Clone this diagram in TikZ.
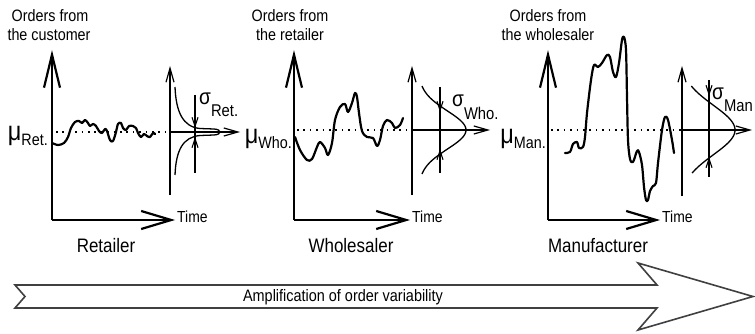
\documentclass[tikz,border=0pt]{standalone}
\usepackage{fontspec}
\setmainfont{Liberation Sans}[FakeStretch=0.87]
\usetikzlibrary{arrows.meta}

\tikzset{
  valaxis/.style={line width=2.2pt, -{Straight Barb[length=33pt,width=16pt]}},
  timeaxis/.style={line width=2.2pt, -{Straight Barb[length=30pt,width=18pt]}},
  distaxis/.style={line width=1.2pt, -{Straight Barb[length=14pt,width=8pt]}},
  sigline/.style={line width=1.2pt},
  sigarrow/.style={line width=1.1pt, -{Straight Barb[length=9pt,width=6pt]}},
  series/.style={line width=2.2pt, line join=round, line cap=round},
  bell/.style={line width=1.3pt},
  meanline/.style={line width=1.6pt, dash pattern=on 1.6pt off 4.8pt},
  toptext/.style={anchor=base, inner sep=0pt, font=\fontsize{16.5}{18}\selectfont},
  timetext/.style={anchor=base west, inner sep=0pt, font=\fontsize{16}{18}\selectfont},
  stagetext/.style={anchor=base, inner sep=0pt, font=\fontsize{19.5}{22}\selectfont},
  mutext/.style={anchor=base east, inner sep=0pt},
  sigtext/.style={anchor=base west, inner sep=0pt},
  bigarrow/.style={line width=1.6pt, draw=black!75, fill=white, line join=miter},
}
\newcommand{\mulabel}[1]{{\fontsize{27}{27}\selectfont μ}{\fontsize{16.5}{18}\selectfont\raisebox{-5pt}{#1}}}
\newcommand{\siglabel}[2]{{\fontsize{22}{22}\selectfont σ}{\fontsize{17}{18}\selectfont\raisebox{-#2}{#1}}}

\begin{document}
\begin{tikzpicture}[x=1pt, y=-1pt]
\useasboundingbox (0,0) rectangle (755,334);

% ---------------- Retailer ----------------
\coordinate (r-o) at (52,220);
\coordinate (r-y) at (52,50);
\coordinate (r-x) at (175,220);
\draw[valaxis] (r-o) -- (r-y);
\draw[timeaxis] (r-o) -- (r-x);
\node[toptext] (r-t1) at (50,22) {Orders from};
\node[toptext] (r-t2) at (49,41) {the customer};
\node[timetext] (r-time) at (177,222) {Time};
\node[stagetext] (r-name) at (106,252) {Retailer};
\node[mutext] (r-mu) at (48,141) {\mulabel{Ret.}};
\coordinate (r-m1) at (56,132);
\coordinate (r-m2) at (166,132);
\draw[meanline] (r-m1) -- (r-m2);
\draw[series] plot[smooth, tension=0.55] coordinates {
  (52,143) (58,145) (64,143) (68,137) (71,128) (75,122) (79,121) (82,123)
  (85,120) (88,123) (90,126) (93,124) (96,126) (99,131) (102,133) (105,129)
  (107,131) (110,140) (113,141) (116,132) (118,124) (121,123) (123,128)
  (126,130) (129,126) (133,126) (136,128) (138,133) (141,137) (144,134)
  (147,136) (150,137) (153,133) (155,134)};
% distribution
\coordinate (r-d0) at (170,195);
\coordinate (r-dt) at (170,66);
\coordinate (r-h0) at (170,132);
\coordinate (r-ht) at (240,132);
\draw[distaxis] (r-d0) -- (r-dt);
\draw[distaxis] (r-h0) -- (r-ht);
\coordinate (r-s1) at (195,95);
\coordinate (r-s2) at (195,173);
\draw[sigline] (r-s1) -- (r-s2);
\draw[sigarrow] (195,113) -- (195,128);
\draw[sigarrow] (195,151) -- (195,137);
\draw[bell] (175,87) .. controls (176,112) and (183,127) .. (200,128.5)
  -- (214,129) .. controls (222,129.5) and (222,134.5) .. (214,135)
  -- (200,135.5) .. controls (183,137) and (176,150) .. (175,175);
\node[sigtext] (r-sig) at (199,105) {\siglabel{Ret.}{12pt}};

% ---------------- Wholesaler ----------------
\coordinate (w-o) at (294,220);
\coordinate (w-y) at (294,50);
\coordinate (w-x) at (410,220);
\draw[valaxis] (w-o) -- (w-y);
\draw[timeaxis] (w-o) -- (w-x);
\node[toptext] (w-t1) at (290,22) {Orders from};
\node[toptext] (w-t2) at (290,41) {the retailer};
\node[timetext] (w-time) at (412,222) {Time};
\node[stagetext] (w-name) at (351,252) {Wholesaler};
\node[mutext] (w-mu) at (292,144) {\mulabel{Who.}};
\coordinate (w-m1) at (297,130);
\coordinate (w-m2) at (408,130);
\draw[meanline] (w-m1) -- (w-m2);
\draw[series] plot[smooth, tension=0.55] coordinates {
  (295,137) (300,150) (307,160) (312,159) (317,147) (320,142) (325,148)
  (328,155) (332,143) (335,120) (340,107) (345,104) (348,112) (352,103)
  (355,93) (357,97) (359,113) (362,131) (367,137) (373,138) (377,146)
  (380,140) (383,126) (387,120) (392,123) (395,128) (400,125) (403,118)};
% distribution
\coordinate (w-d0) at (412,195);
\coordinate (w-dt) at (412,66);
\coordinate (w-h0) at (412,130);
\coordinate (w-ht) at (490,130);
\draw[distaxis] (w-d0) -- (w-dt);
\draw[distaxis] (w-h0) -- (w-ht);
\coordinate (w-s1) at (440,87);
\coordinate (w-s2) at (440,173);
\draw[sigline] (w-s1) -- (w-s2);
\draw[sigarrow] (440,99) -- (440,112);
\draw[sigarrow] (440,162) -- (440,149);
\draw[bell] plot[domain=-44:44, samples=80, smooth]
  ({418.7+47.3*exp(-(\x/27)*(\x/27))}, {130+\x});
\node[sigtext] (w-sig) at (452,107) {\siglabel{Who.}{13pt}};

% ---------------- Manufacturer ----------------
\coordinate (m-o) at (548,220);
\coordinate (m-y) at (548,50);
\coordinate (m-x) at (660,220);
\draw[valaxis] (m-o) -- (m-y);
\draw[timeaxis] (m-o) -- (m-x);
\node[toptext] (m-t1) at (548,22) {Orders from};
\node[toptext] (m-t2) at (548,41) {the wholesaler};
\node[timetext] (m-time) at (662,222) {Time};
\node[stagetext] (m-name) at (598,252) {Manufacturer};
\node[mutext] (m-mu) at (546,144) {\mulabel{Man.}};
\coordinate (m-m1) at (551,130);
\coordinate (m-m2) at (681,130);
\draw[meanline] (m-m1) -- (m-m2);
\draw[series] plot[smooth, tension=0.5] coordinates {
  (565,153) (570,152) (573,144) (577,142) (579,148) (583,147) (585,137)
  (587,113) (591,80) (594,65) (598,67) (602,63) (607,55) (610,57) (613,72)
  (616,77) (619,63) (622,40) (624,37) (626,50) (627,97) (628,140) (630,159)
  (633,162) (637,151) (639,152) (642,165) (644,187) (646,200) (648,200)
  (650,191) (653,186) (656,183) (658,163) (662,130) (665,117) (668,120)
  (672,140) (674,153)};
% distribution
\coordinate (m-d0) at (682,196);
\coordinate (m-dt) at (682,66);
\coordinate (m-h0) at (682,130);
\coordinate (m-ht) at (752,130);
\draw[distaxis] (m-d0) -- (m-dt);
\draw[distaxis] (m-h0) -- (m-ht);
\coordinate (m-s1) at (709,80);
\coordinate (m-s2) at (709,177);
\draw[sigline] (m-s1) -- (m-s2);
\draw[sigarrow] (709,83) -- (709,96);
\draw[sigarrow] (709,170) -- (709,157);
\draw[bell] plot[domain=-44:43, samples=80, smooth]
  ({680+55*exp(-(\x/35)*(\x/35))}, {130+\x});
\node[sigtext] (m-sig) at (712,100) {\siglabel{Man}{12pt}};

% ---------------- Amplification arrow ----------------
\draw[bigarrow] (15,285) -- (657,285) -- (638,263) -- (753,296.5)
  -- (638,330) -- (657,308) -- (15,308) -- (25,296.5) -- cycle;
\node[anchor=base, inner sep=0pt, font=\fontsize{16.6}{18}\selectfont]
  (amp) at (343,301) {Amplification of order variability};
\end{tikzpicture}
\end{document}
